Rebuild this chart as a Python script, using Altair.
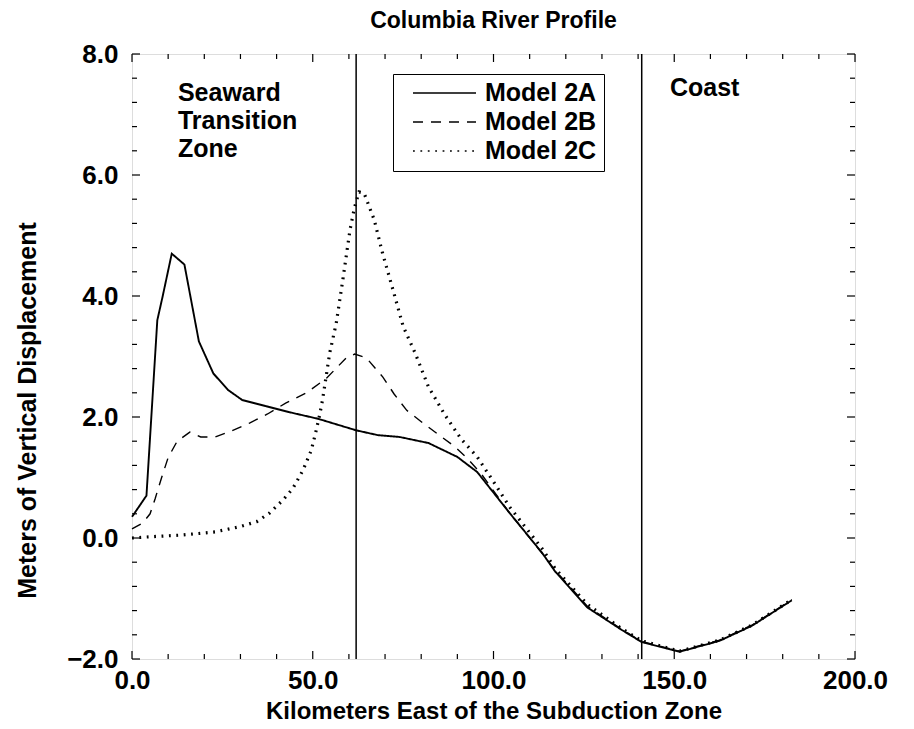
import altair as alt
import pandas as pd

# ---- data ----
km_2a = [0, 4, 7, 8.5, 11, 14.5, 18.5, 22.5, 26.5, 30.5, 37, 43.5, 51.5, 62, 68, 74, 82, 90, 95.5,
         104.5, 113.5, 117, 126, 135.5, 141, 151.5, 162.5, 171.5, 182.5]
m_2a = [0.35, 0.7, 3.6, 4.0, 4.7, 4.52, 3.25, 2.72, 2.45, 2.28, 2.18, 2.08, 1.97, 1.78, 1.70, 1.67, 1.57, 1.34, 1.09,
        0.41, -0.25, -0.55, -1.15, -1.52, -1.72, -1.88, -1.70, -1.45, -1.03]

km_2b = [0, 3, 5, 6.4, 8.2, 10, 12.5, 16, 19, 23, 27.5, 32.5, 37.5, 42.5, 48.3, 53.8, 59.3, 61.6, 64.8,
         69.4, 72.5, 76, 80.5, 85, 89.5, 93, 96.5, 104, 113, 117, 126, 135.5, 141, 151.5, 162.5, 171.5, 182.5]
m_2b = [0.15, 0.25, 0.4, 0.65, 1.0, 1.33, 1.6, 1.75, 1.67, 1.67, 1.77, 1.9, 2.05, 2.23, 2.4, 2.64, 2.98, 3.04, 2.98,
        2.66, 2.38, 2.11, 1.9, 1.70, 1.5, 1.3, 1.07, 0.45, -0.22, -0.53, -1.13, -1.51, -1.71, -1.87, -1.69, -1.44, -1.02]

km_2c = [0, 5, 14, 23, 30, 34.5, 38, 41.8, 44.5, 47.3, 49.6, 51, 52, 52.7, 54.7, 56.5, 58.3, 60.3, 61.5, 62.8,
         64.2, 67, 69.3, 72.2, 75, 78.3, 82, 86.5, 91, 95.5, 100, 104.5, 113.5, 117, 126, 135.5, 141, 151.5,
         162.5, 171.5, 182.5]
m_2c = [0.0, 0.02, 0.05, 0.1, 0.19, 0.27, 0.41, 0.63, 0.82, 1.12, 1.45, 1.79, 2.06, 2.28, 3.06, 3.55, 4.26, 5.09,
        5.45, 5.72, 5.70, 5.26, 4.71, 4.1, 3.5, 3.06, 2.5, 2.04, 1.64, 1.34, 0.93, 0.51, -0.18, -0.5, -1.1, -1.5,
        -1.7, -1.87, -1.69, -1.44, -1.02]

models = ["Model 2A", "Model 2B", "Model 2C"]
zone_lines_km = [62, 141]

ann_text = ["Seaward", "Transition", "Zone", "Coast"]
ann_km = [12.7, 12.7, 12.7, 148.8]
ann_y = [7.22, 6.76, 6.30, 7.30]

x_major = [0, 50, 100, 150, 200]
x_minor = [10, 20, 30, 40, 60, 70, 80, 90, 110, 120, 130, 140, 160, 170, 180, 190]
y_major = [-2, 0, 2, 4, 6, 8]
y_minor = [-1.6, -1.2, -0.8, -0.4, 0.4, 0.8, 1.2, 1.6, 2.4, 2.8, 3.2, 3.6, 4.4, 4.8, 5.2, 5.6,
           6.4, 6.8, 7.2, 7.6]

# ---- tables ----
rows = []
for name, xs_, ys_ in zip(models, [km_2a, km_2b, km_2c], [m_2a, m_2b, m_2c]):
    for i, (x, y) in enumerate(zip(xs_, ys_)):
        rows.append({"km": x, "disp": y, "model": name, "idx": i})
df = pd.DataFrame(rows)

W, H = 723, 605
FONT = "Liberation Sans"

xs = alt.Scale(domain=[0, 200], nice=False, zero=False)
ys = alt.Scale(domain=[-2, 8], nice=False, zero=False)
dash_scale = alt.Scale(domain=models, range=[[1, 0], [10, 8], [1.8, 5.6]])

base_x = alt.X("km:Q", scale=xs, title="Kilometers East of the Subduction Zone",
               axis=alt.Axis(values=x_major, format=".1f", grid=False, ticks=False, domain=False,
                             labelFlush=False, labelOverlap=False, labelPadding=8,
                             labelFont=FONT, labelFontSize=26, labelFontWeight="bold", labelColor="black",
                             titleFont=FONT, titleFontSize=24, titleFontWeight="bold", titleColor="black",
                             titlePadding=6))
base_y = alt.Y("disp:Q", scale=ys, title="Meters of Vertical Displacement",
               axis=alt.Axis(values=y_major, format=".1f", grid=False, ticks=False, domain=False,
                             labelFlush=False, labelOverlap=False, labelPadding=14,
                             labelFont=FONT, labelFontSize=26, labelFontWeight="bold", labelColor="black",
                             titleFont=FONT, titleFontSize=25, titleFontWeight="bold", titleColor="black",
                             titlePadding=26, titleY=356))

legend = alt.Legend(title=None, orient="none", legendX=261, legendY=20,
                    strokeColor="black", fillColor="white", padding=7,
                    symbolType="stroke", symbolSize=3969,
                    symbolStrokeColor="black", symbolStrokeWidth=1.5,
                    symbolOffset=12, labelOffset=8, clipHeight=24, rowPadding=4,
                    labelFont=FONT, labelFontSize=25, labelFontWeight="bold", labelColor="black")


def model_line(name, width):
    return alt.Chart(df).transform_filter(alt.datum.model == name).mark_line(
        color="black", strokeWidth=width
    ).encode(
        x=base_x, y=base_y, order="idx:Q",
        strokeDash=alt.StrokeDash("model:N", scale=dash_scale, legend=legend),
    )


line_a = model_line("Model 2A", 1.9)
line_b = model_line("Model 2B", 1.4)
line_c = model_line("Model 2C", 3.2)

vlines = alt.Chart(pd.DataFrame({"km": zone_lines_km})).mark_rule(color="black", strokeWidth=1.5).encode(
    x=alt.X("km:Q", scale=xs)
)

ann = alt.Chart(pd.DataFrame({"t": ann_text, "km": ann_km, "y": ann_y})).mark_text(
    align="left", baseline="alphabetic", font=FONT, fontSize=25, fontWeight="bold", color="black"
).encode(x=alt.X("km:Q", scale=xs), y=alt.Y("y:Q", scale=ys), text="t:N")

xt_major = pd.DataFrame({"km": x_major})
xt_minor = pd.DataFrame({"km": x_minor})
yt_major = pd.DataFrame({"disp": y_major})
yt_minor = pd.DataFrame({"disp": y_minor})


def xticks(d, L):
    b = alt.Chart(d).mark_rule(color="black", strokeWidth=1.2)
    return (b.encode(x=alt.X("km:Q", scale=xs), y=alt.value(H), y2=alt.value(H - L)) +
            b.encode(x=alt.X("km:Q", scale=xs), y=alt.value(0), y2=alt.value(L)))


def yticks(d, L):
    b = alt.Chart(d).mark_rule(color="black", strokeWidth=1.2)
    return (b.encode(y=alt.Y("disp:Q", scale=ys), x=alt.value(0), x2=alt.value(L)) +
            b.encode(y=alt.Y("disp:Q", scale=ys), x=alt.value(W), x2=alt.value(W - L)))


chart = alt.layer(
    vlines, line_a, line_b, line_c, ann,
    xticks(xt_major, 8), xticks(xt_minor, 5), yticks(yt_major, 8), yticks(yt_minor, 5)
).properties(
    width=W, height=H,
    title=alt.TitleParams("Columbia River Profile", font=FONT, fontSize=23, fontWeight="bold",
                          color="black", anchor="middle", offset=8),
    padding={"left": 132, "top": 54, "right": 59, "bottom": 70},
    autosize=alt.AutoSizeParams(type="none"),
).configure_view(stroke="black", strokeWidth=1.5).configure(background="white")

chart.save("out.html", embed_options={"renderer": "svg", "actions": False})
